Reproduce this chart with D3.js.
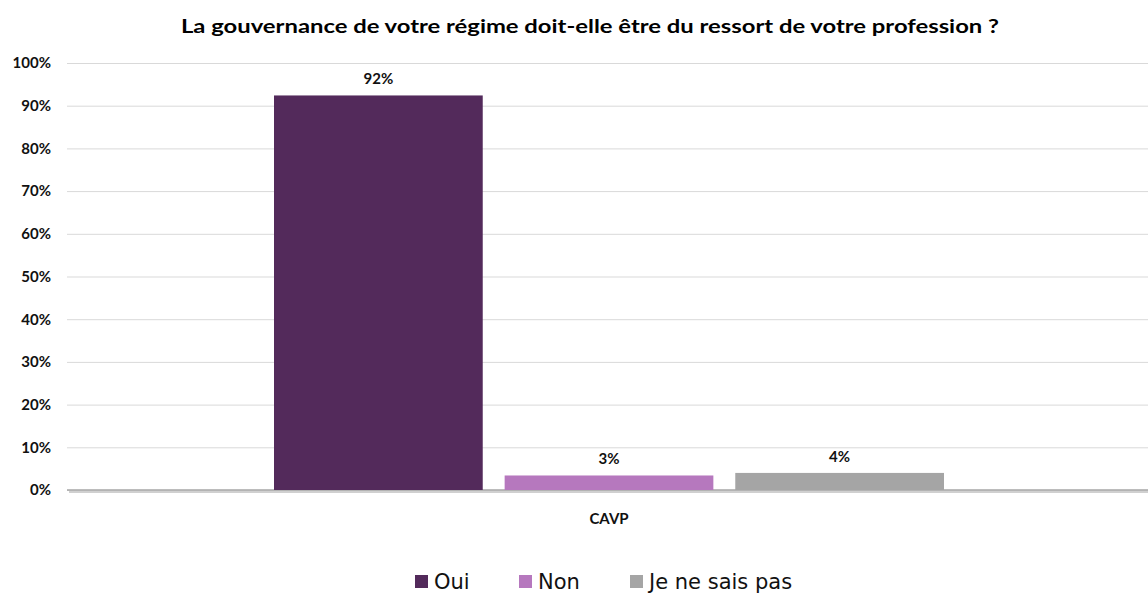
<!DOCTYPE html>
<html>
<head>
<meta charset="utf-8">
<script src="https://cdn.jsdelivr.net/npm/d3@7"></script>
<style>
  body { margin: 0; background: #fff; }
  svg { display: block; }
</style>
</head>
<body>
<svg id="chart"></svg>
<script>
// data
const categories = ['CAVP']
const seriesNames = ['Oui', 'Non', 'Je ne sais pas']
const seriesValues = [92.4, 3.4, 4.0]
const seriesColors = ['#532a5b', '#b678be', '#a5a5a5']
const yTicks = [0, 10, 20, 30, 40, 50, 60, 70, 80, 90, 100]
const title = 'La gouvernance de votre régime doit-elle être du ressort de votre profession ?'

const W = 1148, H = 594
const plot = { left: 67, right: 1148, top: 63, bottom: 490 }

const svg = d3.select('#chart').attr('width', W).attr('height', H)

// scales
const y = d3.scaleLinear().domain([0, 100]).range([plot.bottom, plot.top])
const x0 = d3.scaleBand().domain(categories).range([plot.left + 3, plot.right])
    .paddingInner(0).paddingOuter(0.3045)
const x1 = d3.scaleBand().domain(seriesNames).range([0, x0.bandwidth()])
    .paddingInner(0.095).paddingOuter(0)
const color = d3.scaleOrdinal().domain(seriesNames).range(seriesColors)

/**
 * @Title
 */
svg.append('text')
    .attr('x', 590)
    .attr('y', 33)
    .attr('text-anchor', 'middle')
    .style('font-family', 'Lato, sans-serif')
    .style('font-weight', 'bold')
    .style('font-size', '19px')
    .attr('textLength', 818)
    .attr('lengthAdjust', 'spacingAndGlyphs')
    .text(title)

/**
 * @Grid + Y axis
 */
const yAxis = svg.append('g')
    .attr('transform', `translate(${plot.left},0)`)
    .call(d3.axisLeft(y).tickValues(yTicks).tickFormat(d => d + '%')
        .tickSize(-(plot.right - plot.left)).tickPadding(16))
yAxis.select('.domain').remove()
yAxis.selectAll('.tick line').attr('stroke', '#d9d9d9').attr('stroke-width', 1)
yAxis.selectAll('.tick text')
    .attr('fill', '#111')
    .style('font-family', 'Lato, sans-serif')
    .style('font-weight', 'bold')
    .style('font-size', '15px')

// baseline with a small shadow
svg.append('line')
    .attr('x1', plot.left + 2).attr('x2', plot.right)
    .attr('y1', y(0) + 2).attr('y2', y(0) + 2)
    .attr('stroke', '#d0d0d0').attr('stroke-width', 2)
svg.append('line')
    .attr('x1', plot.left).attr('x2', plot.right)
    .attr('y1', y(0)).attr('y2', y(0))
    .attr('stroke', '#a6a6a6').attr('stroke-width', 1.5)

/**
 * @Bars
 */
const rows = seriesNames.map((name, i) => ({ name, value: seriesValues[i] }))

const group = svg.append('g')
    .attr('transform', `translate(${x0('CAVP')},0)`)

group.selectAll('rect')
    .data(rows)
    .enter()
    .append('rect')
    .attr('x', d => x1(d.name))
    .attr('y', d => y(d.value))
    .attr('width', x1.bandwidth())
    .attr('height', d => y(0) - y(d.value))
    .attr('fill', d => color(d.name))

group.selectAll('.label')
    .data(rows)
    .enter()
    .append('text')
    .attr('x', d => x1(d.name) + x1.bandwidth() / 2)
    .attr('y', d => y(d.value) - 11)
    .attr('text-anchor', 'middle')
    .attr('fill', '#111')
    .style('font-family', 'Lato, sans-serif')
    .style('font-weight', 'bold')
    .style('font-size', '15px')
    .text(d => Math.round(d.value) + '%')

// category label
svg.append('g')
    .attr('transform', `translate(0,${y(0)})`)
    .call(d3.axisBottom(x0).tickSize(0).tickPadding(23))
    .call(g => g.select('.domain').remove())
    .selectAll('text')
    .attr('fill', '#111')
    .style('font-family', 'Lato, sans-serif')
    .style('font-weight', 'bold')
    .style('font-size', '15px')

/**
 * @Legend
 */
const legendX = [415, 519, 630]
const legend = svg.append('g')
    .selectAll('g')
    .data(seriesNames)
    .enter()
    .append('g')
    .attr('transform', (d, i) => `translate(${legendX[i]},575)`)

legend.append('rect')
    .attr('width', 13).attr('height', 13)
    .attr('fill', d => color(d))
legend.append('text')
    .attr('x', 19)
    .attr('y', 14)
    .attr('fill', '#111')
    .style('font-family', '"DejaVu Sans", sans-serif')
    .style('font-size', '21px')
    .text(d => d)
</script>
</body>
</html>
